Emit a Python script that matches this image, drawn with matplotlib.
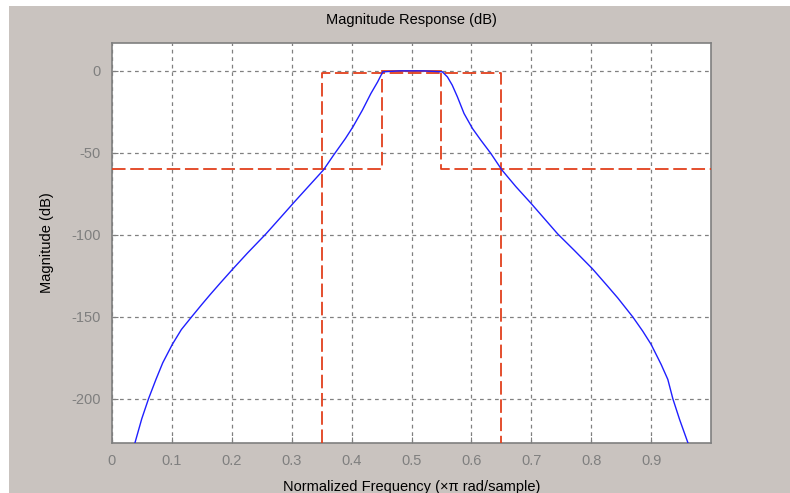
import matplotlib
matplotlib.use("Agg")
import matplotlib.pyplot as plt
from matplotlib.patches import Rectangle

# Magnitude response (normalized freq, dB)
freq_left = [0.0384, 0.0497, 0.0610, 0.0734, 0.0847, 0.1006, 0.1158, 0.1328, 0.1497,
             0.1638, 0.1808, 0.2006, 0.2260, 0.2571, 0.2825, 0.3051, 0.3277, 0.3531,
             0.3701, 0.3898, 0.4023, 0.4181, 0.4322, 0.4435, 0.4520]
mag_left = [-226.8, -212.2, -200.0, -188.2, -178.1, -166.9, -157.8, -150.1, -142.6,
            -136.5, -129.4, -121.3, -111.2, -99.4, -89.0, -79.7, -70.6, -60.4,
            -51.3, -41.2, -34.1, -23.9, -13.8, -6.7, -0.6]
freq_pass = [0.4520, 0.480, 0.500, 0.520, 0.5515]
mag_pass = [-0.6, 0.0, 0.0, 0.0, -0.6]
freq_right = [0.5515, 0.560, 0.568, 0.5766, 0.5877, 0.6017, 0.6156, 0.6323, 0.6508,
              0.6742, 0.6993, 0.7272, 0.7439, 0.7718, 0.8025, 0.8276, 0.8443, 0.8694,
              0.8861, 0.9001, 0.9168, 0.9279, 0.9363, 0.9475, 0.9614]
mag_right = [-0.6, -3.7, -8.7, -15.8, -26.0, -35.1, -42.2, -50.3, -60.4,
             -70.6, -80.7, -92.4, -99.4, -109.5, -120.9, -131.4, -138.5, -150.1,
             -158.8, -166.9, -179.1, -188.2, -200.0, -212.6, -226.8]

# Specification mask
astop = -60
apass = -1
fstop1, fpass1, fpass2, fstop2 = 0.35, 0.45, 0.55, 0.65

xticks = [0, 0.1, 0.2, 0.3, 0.4, 0.5, 0.6, 0.7, 0.8, 0.9]
xticklabels = ["0", "0.1", "0.2", "0.3", "0.4", "0.5", "0.6", "0.7", "0.8", "0.9"]
yticks = [0, -50, -100, -150, -200]
yticklabels = ["0", "-50", "-100", "-150", "-200"]

W, H = 790, 493
fig = plt.figure(figsize=(W / 100, H / 100), dpi=100)
fig.patch.set_facecolor("white")
bg = "#c9c3bf"
fig.patches.append(Rectangle((9 / W, 0), 1 - 9 / W, 1 - 6 / H, transform=fig.transFigure,
                             facecolor=bg, edgecolor="none", zorder=-10))

ax_l, ax_r, ax_t, ax_b = 112, 711, 43, 443
ax = fig.add_axes([ax_l / W, 1 - ax_b / H, (ax_r - ax_l) / W, (ax_b - ax_t) / H])
ax.set_facecolor("white")

freq = freq_left + freq_pass[1:] + freq_right[1:]
mag = mag_left + mag_pass[1:] + mag_right[1:]

red = "#e2401c"
dash = (0, (7.5, 2.6))
bottom = -227
mk = dict(color=red, lw=1.3, linestyle=dash, zorder=3, clip_on=True)
ax.plot([0, fpass1, fpass1], [astop, astop, apass], **mk)
ax.plot([fstop1, fstop1, fstop2, fstop2], [bottom, apass, apass, bottom], **mk)
ax.plot([fpass2, fpass2, 1.0], [apass, astop, astop], **mk)
ax.plot([fpass1, fpass2], [0, 0], color=red, lw=1.3, zorder=3)

ax.plot(freq, mag, color="#1f1fff", lw=1.0, zorder=4)

ax.set_xlim(0, 1)
ax.set_ylim(-227, 17)
ax.set_xticks(xticks)
ax.set_xticklabels(xticklabels)
ax.set_yticks(yticks)
ax.set_yticklabels(yticklabels)
ax.grid(True, color="#808080", linestyle=(0, (3, 3)), lw=0.9)
ax.set_axisbelow(True)

grey = "#7f7f7f"
for s in ax.spines.values():
    s.set_color(grey)
    s.set_linewidth(1.2)
ax.tick_params(direction="in", length=4, color=grey, labelcolor=grey,
               labelsize=10.5, pad=8)
for lab in ax.get_xticklabels() + ax.get_yticklabels():
    lab.set_fontfamily("Liberation Sans")

fig.text((ax_l + ax_r) / 2 / W, 1 - 20 / H, "Magnitude Response (dB)", ha="center",
         va="center", fontsize=10.5, family="Liberation Sans", color="black")
fig.text((ax_l + ax_r) / 2 / W, 1 - 487 / H, "Normalized Frequency (\u00d7\u03c0 rad/sample)",
         ha="center", va="center", fontsize=10.5, family="Liberation Sans", color="black")
fig.text(47 / W, 1 - 243 / H, "Magnitude (dB)", ha="center", va="center", rotation=90,
         fontsize=10.5, family="Liberation Sans", color="black")

fig.savefig("out.png", dpi=100, facecolor=fig.get_facecolor())
